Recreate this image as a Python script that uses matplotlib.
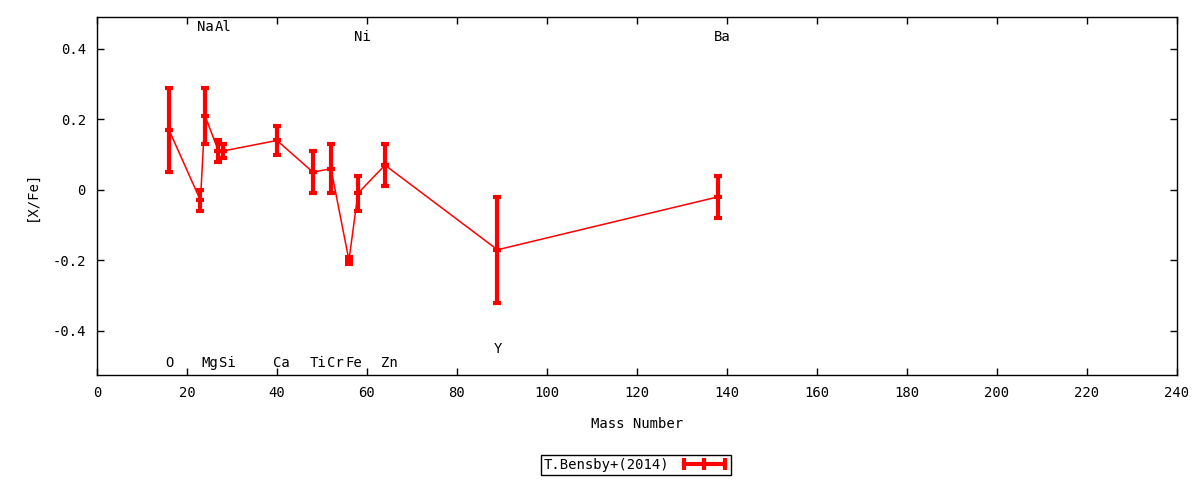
import matplotlib.pyplot as plt
from matplotlib.lines import Line2D

plt.rcParams['font.family'] = ['DejaVu Sans Mono']
FONTSIZE = 10

# Bensby+(2014) abundances vs mass number
elements = ["O", "Na", "Mg", "Al", "Si", "Ca", "Ti", "Cr", "Fe", "Ni", "Zn", "Y", "Ba"]
mass = [16, 23, 24, 27, 28, 40, 48, 52, 56, 58, 64, 89, 138]
xfe = [0.17, -0.03, 0.21, 0.11, 0.11, 0.14, 0.05, 0.06, -0.20, -0.01, 0.07, -0.17, -0.02]
err = [0.12, 0.03, 0.08, 0.03, 0.02, 0.04, 0.06, 0.07, 0.01, 0.05, 0.06, 0.15, 0.06]

# element label heights
label_y = [-0.49, 0.462, -0.49, 0.462, -0.49, -0.49, -0.49, -0.49, -0.49, 0.434, -0.49, -0.451, 0.434]

fig = plt.figure(figsize=(12, 4.8), dpi=100)
ax = fig.add_axes([0.0808, 0.2188, 0.9, 0.7458])

ax.plot(mass, xfe, color="red", lw=1.1, zorder=2)
ax.errorbar(mass, xfe, yerr=err, fmt="none", ecolor="red", elinewidth=3,
            capsize=3, capthick=3, zorder=3)
ax.plot(mass, xfe, ls="none", marker="_", ms=6, mew=3, color="red", zorder=3)

for el, m, y in zip(elements, mass, label_y):
    ax.text(m - 0.8, y, el, ha="left", va="center", fontsize=FONTSIZE)

ax.set_xlim(0, 240)
ax.set_ylim(-0.525, 0.49)
ax.set_xticks(range(0, 241, 20))
ax.set_yticks([-0.4, -0.2, 0, 0.2, 0.4])
ax.set_yticklabels(["-0.4", "-0.2", "0", "0.2", "0.4"])
ax.tick_params(direction="in", top=True, right=True, length=5, width=1,
               labelsize=FONTSIZE, pad=8)
for s in ax.spines.values():
    s.set_linewidth(1)

ax.set_xlabel("Mass Number", fontsize=FONTSIZE, labelpad=12)
ax.set_ylabel("[X/Fe]", fontsize=FONTSIZE, labelpad=10)

handle = Line2D([], [], color="red", lw=3, marker="|", ms=8, mew=3)
fig.legend([handle], ["T.Bensby+(2014)"], loc="center", bbox_to_anchor=(0.53, 0.031),
           numpoints=3, markerfirst=False, fancybox=False, edgecolor="black",
           framealpha=1, fontsize=FONTSIZE, handlelength=3.5, borderpad=0.2,
           borderaxespad=0)

plt.savefig("out.png", dpi=100)
